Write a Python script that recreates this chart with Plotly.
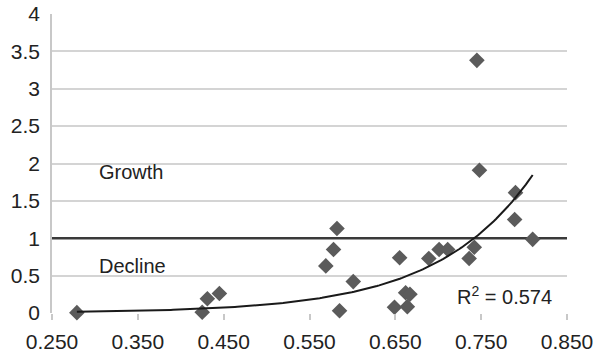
import numpy as np
import plotly.graph_objects as go

# Observed ratio vs. index
x_vals = [0.279, 0.425, 0.431, 0.445, 0.569, 0.578, 0.582, 0.585, 0.601,
          0.649, 0.655, 0.662, 0.664, 0.667, 0.689, 0.701, 0.711, 0.736,
          0.742, 0.745, 0.748, 0.789, 0.790, 0.810]
y_vals = [0.005, 0.01, 0.19, 0.26, 0.63, 0.85, 1.13, 0.03, 0.42,
          0.076, 0.74, 0.27, 0.085, 0.25, 0.73, 0.85, 0.85, 0.73,
          0.88, 3.38, 1.91, 1.25, 1.61, 0.985]

# Exponential trend y = A * exp(B * x)
trend_A = 0.00126
trend_B = 9.0
trend_x_range = [0.279, 0.810]
r_squared = 0.574

threshold = 1.0
x_ticks = [0.25, 0.35, 0.45, 0.55, 0.65, 0.75, 0.85]
y_ticks = [0, 0.5, 1, 1.5, 2, 2.5, 3, 3.5, 4]

FONT = "Liberation Sans, Arial, sans-serif"

tx = np.linspace(trend_x_range[0], trend_x_range[1], 200)
ty = trend_A * np.exp(trend_B * tx)

fig = go.Figure()
fig.add_trace(go.Scatter(
    x=[x_ticks[0], x_ticks[-1]], y=[threshold, threshold], mode="lines",
    line=dict(color="#3a3a3a", width=2.5), hoverinfo="skip", showlegend=False))
fig.add_trace(go.Scatter(
    x=x_vals, y=y_vals, mode="markers", cliponaxis=False,
    marker=dict(symbol="diamond", size=12, color="#5b5b5b"),
    showlegend=False))
fig.add_trace(go.Scatter(
    x=tx, y=ty, mode="lines", line=dict(color="#1a1a1a", width=2),
    cliponaxis=False, hoverinfo="skip", showlegend=False))

fig.add_annotation(x=0.302, y=1.885, text="Growth", showarrow=False,
                   xanchor="left", yanchor="middle",
                   font=dict(family=FONT, size=20, color="#222"))
fig.add_annotation(x=0.302, y=0.63, text="Decline", showarrow=False,
                   xanchor="left", yanchor="middle",
                   font=dict(family=FONT, size=20, color="#222"))
fig.add_annotation(x=0.72, y=0.24, text=f"R<sup>2</sup> = {r_squared:.3f}",
                   showarrow=False, xanchor="left", yanchor="middle",
                   font=dict(family=FONT, size=20, color="#222"))

fig.update_layout(
    width=600, height=353,
    margin=dict(l=52, r=33, t=14, b=40),
    paper_bgcolor="white", plot_bgcolor="white",
    font=dict(family=FONT, size=21, color="#222"),
)
fig.update_xaxes(
    range=[0.25, 0.85], tickvals=x_ticks, tickformat=".3f",
    showgrid=False, zeroline=False, showline=False, automargin=False,
    ticks="outside", ticklen=6, tickcolor="#c8c8c8", tickwidth=1.5,
    ticklabelstandoff=4,
    tickfont=dict(family=FONT, size=21, color="#222"),
)
fig.update_yaxes(
    range=[0, 4], tickvals=y_ticks, ticktext=[f"{v:g}" for v in y_ticks],
    showgrid=True, gridcolor="#d4d4d4", gridwidth=1.5, automargin=False,
    zeroline=False, showline=True, linecolor="#c8c8c8", linewidth=1.5,
    ticks="", ticklabelstandoff=6,
    tickfont=dict(family=FONT, size=21, color="#222"),
)

fig.write_html("out.html")
